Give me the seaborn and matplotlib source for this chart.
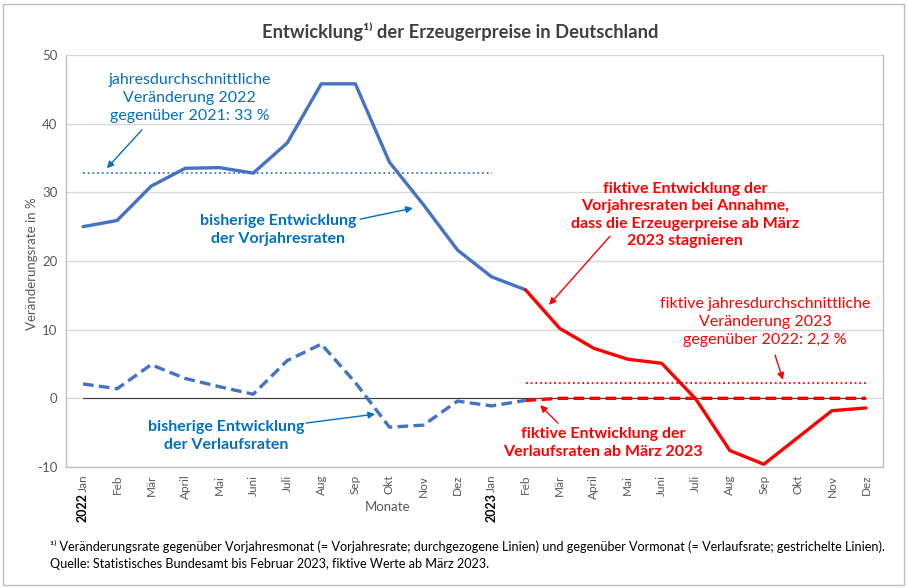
import matplotlib
matplotlib.use("Agg")
import matplotlib.pyplot as plt
import seaborn as sns
import pandas as pd
import numpy as np
from matplotlib.patches import Rectangle

sns.set_theme(style="white")
FONT = ['Lato', 'DejaVu Sans']
plt.rcParams['font.family'] = FONT

# ---------------- data ----------------
months = ["Jan", "Feb", "Mär", "April", "Mai", "Juni", "Juli", "Aug", "Sep", "Okt", "Nov", "Dez"] * 2
years = ["2022"] + [""] * 11 + ["2023"] + [""] * 11

# Vorjahresraten (solid), Jan 2022 .. Feb 2023 observed
vj_observed = [25.0, 25.9, 30.9, 33.5, 33.6, 32.8, 37.2, 45.8, 45.8, 34.4, 28.2, 21.6, 17.7, 15.8]
# fictitious Vorjahresraten, Feb 2023 .. Dez 2023
vj_fictive = [15.8, 10.2, 7.3, 5.7, 5.1, -0.1, -7.6, -9.6, -5.7, -1.8, -1.4]
# Verlaufsraten (dashed), Jan 2022 .. Feb 2023 observed
vl_observed = [2.1, 1.4, 4.9, 2.9, 1.7, 0.6, 5.5, 7.9, 2.3, -4.2, -3.9, -0.4, -1.1, -0.3]
# fictitious Verlaufsraten, Feb 2023 .. Dez 2023
vl_fictive = [-0.3, 0.0, 0.0, 0.0, 0.0, 0.0, 0.0, 0.0, 0.0, 0.0, 0.0]
avg_2022 = 32.8
avg_2023 = 2.2

idx_obs = list(range(0, 14))
idx_fic = list(range(13, 24))

df_vj_obs = pd.DataFrame({"x": idx_obs, "y": vj_observed})
df_vj_fic = pd.DataFrame({"x": idx_fic, "y": vj_fictive})
df_vl_obs = pd.DataFrame({"x": idx_obs, "y": vl_observed})
df_vl_fic = pd.DataFrame({"x": idx_fic, "y": vl_fictive})
df_avg22 = pd.DataFrame({"x": [0, 12], "y": [avg_2022, avg_2022]})
df_avg23 = pd.DataFrame({"x": [13, 23], "y": [avg_2023, avg_2023]})

BLUE_LINE = "#4472C4"
BLUE_TXT = "#0070C0"
RED = "#FF0000"
GRAY_TXT = "#595959"

W, H = 908, 588
fig = plt.figure(figsize=(W / 100, H / 100), dpi=100)
ax = fig.add_axes([66 / W, 1 - 467 / H, (883 - 66) / W, (467 - 55) / H])

# zero line
ax.plot([0, 23], [0, 0], color="#404040", lw=0.8, zorder=1)

sns.lineplot(data=df_avg22, x="x", y="y", ax=ax, color=BLUE_LINE, lw=1.3,
             linestyle=(0, (1, 1.6)), zorder=2)
sns.lineplot(data=df_avg23, x="x", y="y", ax=ax, color=RED, lw=1.3,
             linestyle=(0, (1, 1.6)), zorder=2)
sns.lineplot(data=df_vl_obs, x="x", y="y", ax=ax, color=BLUE_LINE, lw=2.4,
             linestyle=(0, (3.2, 1.6)), zorder=3)
sns.lineplot(data=df_vl_fic, x="x", y="y", ax=ax, color=RED, lw=2.4,
             linestyle=(0, (3.2, 1.6)), zorder=3)
sns.lineplot(data=df_vj_obs, x="x", y="y", ax=ax, color=BLUE_LINE, lw=2.4, zorder=4)
sns.lineplot(data=df_vj_fic, x="x", y="y", ax=ax, color=RED, lw=2.4, zorder=4)

ax.set_xlim(-0.5, 23.5)
ax.set_ylim(-10, 50)
ax.set_yticks(range(-10, 51, 10))
ax.set_yticklabels([str(v) for v in range(-10, 51, 10)], color=GRAY_TXT, fontsize=9.5)
ax.yaxis.grid(True, color="#D9D9D9", lw=1)
ax.set_axisbelow(True)
ax.set_xticks(range(24))
ax.set_xticklabels(months, rotation=90, color=GRAY_TXT, fontsize=8.5)
ax.tick_params(axis="both", length=0, pad=6)
ax.tick_params(axis="x", pad=5.5)
ax.spines["top"].set_visible(False)
for s in ["left", "bottom", "right"]:
    ax.spines[s].set_color("#BFBFBF")
    ax.spines[s].set_linewidth(1)
ax.set_xlabel("")
ax.set_ylabel("")
fig.text(32 / W, 1 - 264 / H, "Veränderungsrate in %", rotation=90,
         ha="center", va="center", color=GRAY_TXT, fontsize=9.5)

# year labels
for i, yl in enumerate(years):
    if yl:
        ax.text(i, -15.9, yl, rotation=90, ha="center", va="center",
                fontsize=9, fontweight="bold", color="black", clip_on=False)
ax.text((388 - 83) / 34.04, -15.8, "Monate", ha="center", va="center",
        fontsize=9.5, color=GRAY_TXT, clip_on=False)

# title
fig.text(460 / W, 1 - 32 / H, "Entwicklung¹⁾ der Erzeugerpreise in Deutschland",
         ha="center", va="center", fontsize=13.2, fontweight="bold", color="#404040")

arrow_kw = dict(arrowstyle="-|>", lw=1.0, mutation_scale=10, shrinkA=0, shrinkB=0)

# annotations
ax.annotate("", xy=(0.70, 33.5), xytext=(1.73, 39.1),
            arrowprops=dict(color=BLUE_TXT, **arrow_kw))
ax.text(3.14, 43.7, "jahresdurchschnittliche\nVeränderung 2022\ngegenüber 2021: 33 %",
        ha="center", va="center", fontsize=11.5, color=BLUE_TXT, linespacing=1.35)

ax.annotate("", xy=(9.69, 27.7), xytext=(8.14, 26.1),
            arrowprops=dict(color=BLUE_TXT, **arrow_kw))
ax.text(5.73, 24.5, "bisherige Entwicklung\nder Vorjahresraten",
        ha="center", va="center", fontsize=11.5, fontweight="bold",
        color=BLUE_TXT, linespacing=1.3)

ax.annotate("", xy=(8.58, -2.3), xytext=(6.55, -3.6),
            arrowprops=dict(color=BLUE_TXT, **arrow_kw))
ax.text(4.2, -5.5, "bisherige Entwicklung\nder Verlaufsraten",
        ha="center", va="center", fontsize=11.5, fontweight="bold",
        color=BLUE_TXT, linespacing=1.3)

ax.annotate("", xy=(13.69, 13.6), xytext=(15.48, 23.6),
            arrowprops=dict(color=RED, **arrow_kw))
ax.text(17.69, 26.7, "fiktive Entwicklung der\nVorjahresraten bei Annahme,\n"
        "dass die Erzeugerpreise ab März\n2023 stagnieren",
        ha="center", va="center", fontsize=11.5, fontweight="bold",
        color=RED, linespacing=1.3)

ax.annotate("", xy=(20.56, 2.7), xytext=(20.33, 6.3),
            arrowprops=dict(color=RED, **arrow_kw))
ax.text(20.04, 11.1, "fiktive jahresdurchschnittliche\nVeränderung 2023\ngegenüber 2022: 2,2 %",
        ha="center", va="center", fontsize=11.5, color=RED, linespacing=1.35)

ax.annotate("", xy=(13.43, -1.0), xytext=(13.95, -3.6),
            arrowprops=dict(color=RED, **arrow_kw))
ax.text(15.28, -6.5, "fiktive Entwicklung der\nVerlaufsraten ab März 2023",
        ha="center", va="center", fontsize=11.5, fontweight="bold",
        color=RED, linespacing=1.3)

# footnote
fig.text(50 / W, 1 - 547 / H,
         "¹⁾ Veränderungsrate gegenüber Vorjahresmonat (= Vorjahresrate; durchgezogene Linien) "
         "und gegenüber Vormonat (= Verlaufsrate; gestrichelte Linien).",
         ha="left", va="center", fontsize=9.1, color="black")
fig.text(50 / W, 1 - 564 / H,
         "Quelle: Statistisches Bundesamt bis Februar 2023, fiktive Werte ab März 2023.",
         ha="left", va="center", fontsize=9.1, color="black")

# outer frame
fig.patches.append(Rectangle((3 / W, 3 / H), (W - 7) / W, (H - 7) / H,
                             transform=fig.transFigure, fill=False,
                             edgecolor="#BFBFBF", lw=1))

fig.savefig("out.png", dpi=100, facecolor="white")
